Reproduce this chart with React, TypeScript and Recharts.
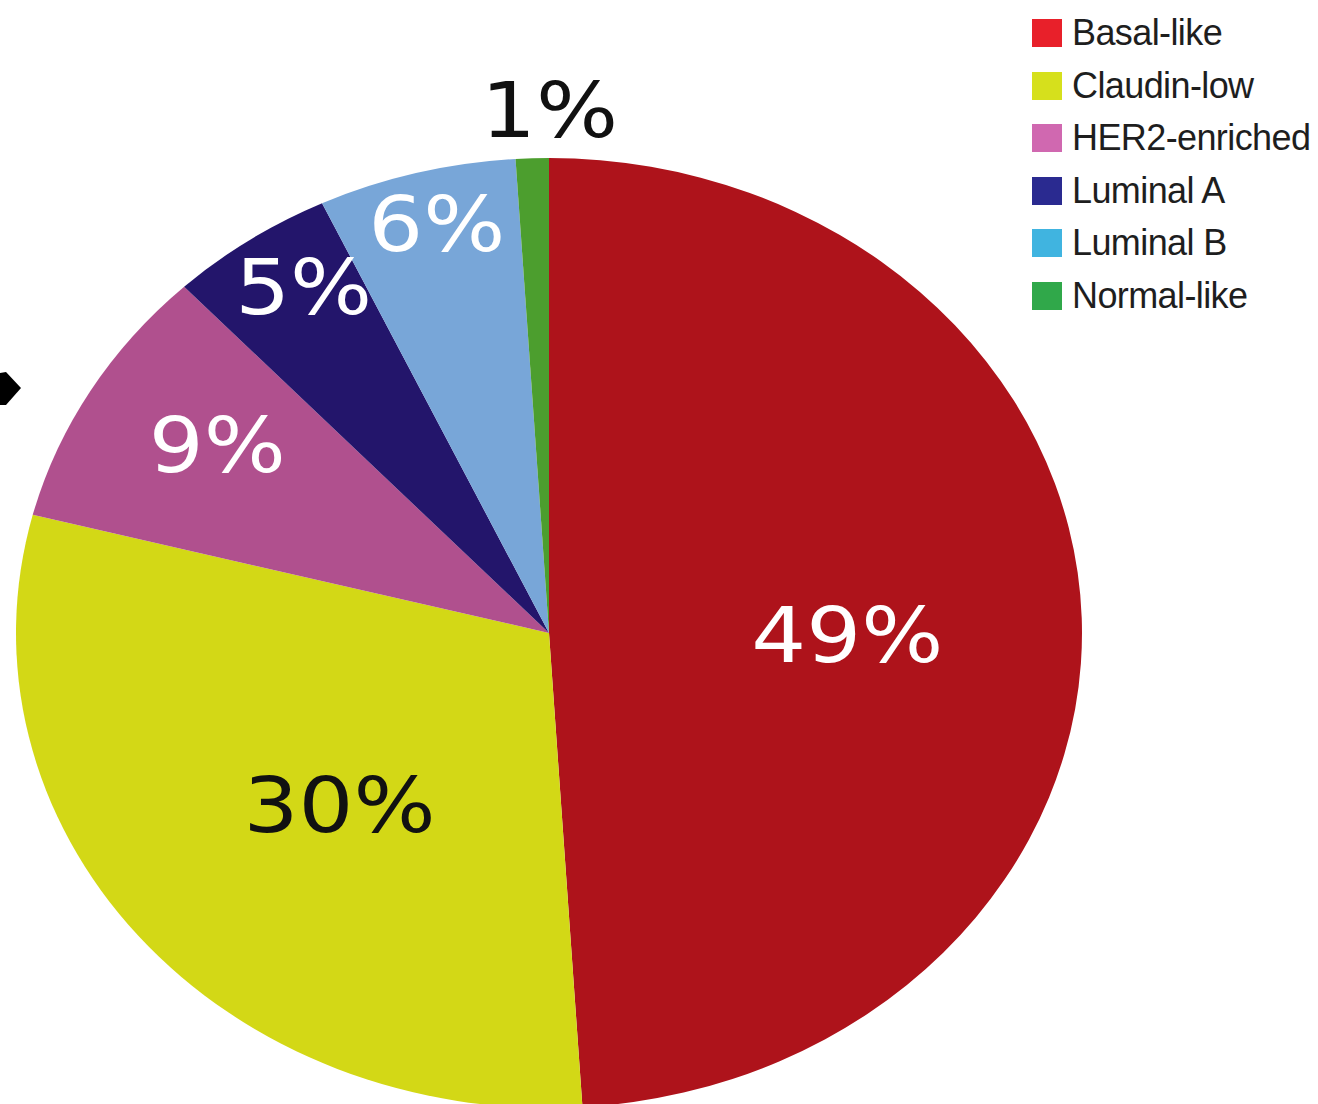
import React from 'react';
import { PieChart, Pie, Cell } from 'recharts';

const categories = ['Basal-like', 'Claudin-low', 'HER2-enriched', 'Luminal A', 'Luminal B', 'Normal-like'];
const values = [49, 30, 9, 5, 6, 1];
const sliceLabels = ['49%', '30%', '9%', '5%', '6%', '1%'];

const sliceColors = ['#AE131B', '#D3D816', '#B0508E', '#23156B', '#78A6D8', '#4C9E2E'];
const legendColors = ['#E8202A', '#D6E01C', '#D068B0', '#2A2A90', '#40B4E0', '#30A84A'];
const labelColors = ['#ffffff', '#111111', '#ffffff', '#ffffff', '#ffffff', '#111111'];
const labelRadiusFactor = [0.56, 0.54, 0.74, 0.86, 0.88, 1.1];
const labelNudge = [
  [0, 11],
  [11, 9],
  [7, -9],
  [11, -8],
  [4, -4],
  [17, -1],
];

const data = categories.map((name, i) => ({ name, value: values[i], label: sliceLabels[i] }));

const CX = 549;
const CY = 633;
const RY = 475;
const RX = 533;
const SX = RX / RY;

const RAD = Math.PI / 180;

const renderLabel = (props: any) => {
  const { cx, cy, midAngle, outerRadius, index } = props;
  const r = outerRadius * labelRadiusFactor[index];
  const x = cx + r * Math.cos(-midAngle * RAD) + labelNudge[index][0];
  const y = cy + r * Math.sin(-midAngle * RAD) + labelNudge[index][1];
  return (
    <text
      x={x}
      y={y}
      fill={labelColors[index]}
      textAnchor="middle"
      dominantBaseline="central"
      fontFamily="DejaVu Sans, sans-serif"
      fontSize={77}
    >
      {data[index].label}
    </text>
  );
};

export default function App() {
  return (
    <div
      style={{
        position: 'fixed',
        left: 0,
        top: 0,
        width: 1318,
        height: 1104,
        overflow: 'hidden',
        background: '#ffffff',
      }}
    >
      <div
        style={{
          position: 'absolute',
          left: 0,
          top: 0,
          width: 1318,
          height: 1104,
          transform: `scaleX(${SX})`,
          transformOrigin: `${CX}px 0px`,
        }}
      >
        <PieChart width={1318} height={1104} margin={{ top: 0, right: 0, bottom: 0, left: 0 }}>
          <Pie
            data={data}
            dataKey="value"
            nameKey="name"
            cx={CX}
            cy={CY}
            outerRadius={RY}
            startAngle={90}
            endAngle={-270}
            stroke="none"
            isAnimationActive={false}
            labelLine={false}
            label={renderLabel}
          >
            {data.map((d, i) => (
              <Cell key={d.name} fill={sliceColors[i]} />
            ))}
          </Pie>
        </PieChart>
      </div>

      <svg
        width={24}
        height={40}
        style={{ position: 'absolute', left: 0, top: 368 }}
      >
        <polygon points="0,5 6,4 21,20 6,37 0,37" fill="#000000" />
      </svg>

      <div style={{ position: 'absolute', left: 1032, top: 7 }}>
        {categories.map((c, i) => (
          <div
            key={c}
            style={{
              display: 'flex',
              alignItems: 'center',
              height: 52.5,
              fontFamily: 'Liberation Sans, Arial, sans-serif',
              fontSize: 36,
              color: '#1e1e1e',
              whiteSpace: 'nowrap',
            }}
          >
            <div
              style={{
                width: 30,
                height: 28,
                background: legendColors[i],
                marginRight: 10,
                flexShrink: 0,
              }}
            />
            <span style={{ letterSpacing: -0.6 }}>{c}</span>
          </div>
        ))}
      </div>
    </div>
  );
}
